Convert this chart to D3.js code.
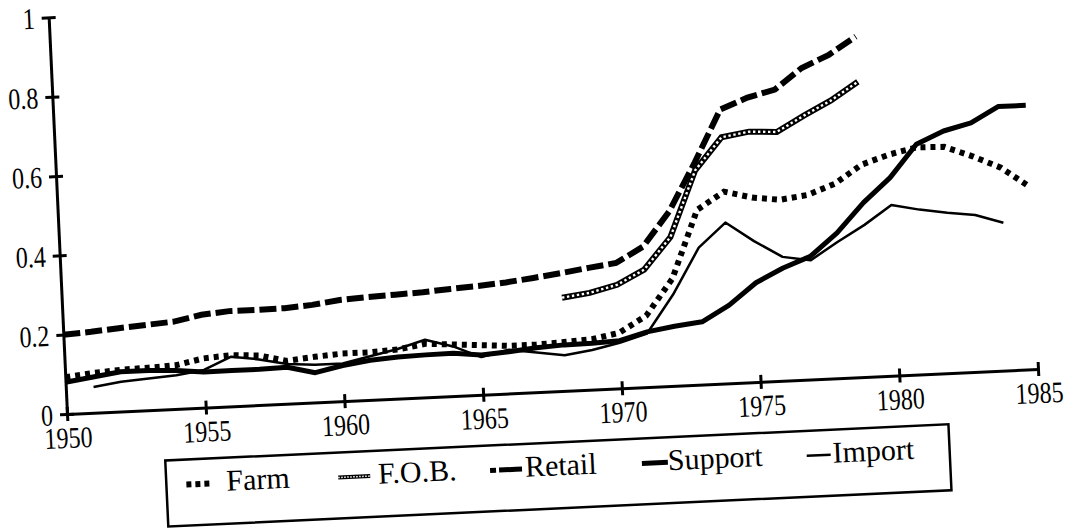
<!DOCTYPE html>
<html>
<head>
<meta charset="utf-8">
<script src="https://cdn.jsdelivr.net/npm/d3@7"></script>
<style>
  body { margin: 0; background: #fff; }
  svg { display: block; }
  svg text { font-family: "Liberation Serif", "Times New Roman", serif !important; fill: #000; }
</style>
</head>
<body>
<div id="chart"></div>
<script>
// values (share, 0..1)
const farmStart = 1950;
const farm = [0.093, 0.10, 0.105, 0.107, 0.11, 0.124, 0.129, 0.125, 0.108, 0.115,
  0.12, 0.12, 0.124, 0.135, 0.13, 0.125, 0.12, 0.12, 0.123, 0.127,
  0.14, 0.18, 0.27, 0.44, 0.483, 0.465, 0.456, 0.465, 0.49, 0.535,
  0.557, 0.572, 0.57, 0.543, 0.511, 0.46];

const fobStart = 1968;
const fob = [0.235, 0.244, 0.261, 0.296, 0.375, 0.54, 0.62, 0.631, 0.627, 0.665, 0.70, 0.744];

const retailStart = 1950;
const retail = [0.20, 0.204, 0.21, 0.215, 0.22, 0.234, 0.24, 0.24, 0.241, 0.246,
  0.255, 0.259, 0.262, 0.265, 0.27, 0.274, 0.28, 0.288, 0.297, 0.307,
  0.316, 0.354, 0.44, 0.56, 0.69, 0.717, 0.734, 0.785, 0.815, 0.858];

const supportStart = 1950;
const support = [0.08, 0.09, 0.10, 0.10, 0.097, 0.09, 0.09, 0.09, 0.092, 0.075,
  0.09, 0.10, 0.105, 0.107, 0.108, 0.10, 0.105, 0.112, 0.116, 0.117,
  0.12, 0.139, 0.15, 0.158, 0.197, 0.25, 0.284, 0.31, 0.366, 0.439,
  0.499, 0.58, 0.61, 0.627, 0.665, 0.665];

const importStart = 1951;
const imports = [0.065, 0.075, 0.08, 0.085, 0.095, 0.125, 0.115, 0.10, 0.095,
  0.095, 0.11, 0.125, 0.145, 0.125, 0.095, 0.11, 0.10, 0.09, 0.10,
  0.115, 0.135, 0.23, 0.345, 0.405, 0.355, 0.312, 0.30, 0.343, 0.383,
  0.43, 0.415, 0.404, 0.395, 0.372];

const xTicks = [1950, 1955, 1960, 1965, 1970, 1975, 1980, 1985];
const yTicks = [0, 0.2, 0.4, 0.6, 0.8, 1];
const yTickLabels = ["0", "0.2", "0.4", "0.6", "0.8", "1"];
const legendNames = ["Farm", "F.O.B.", "Retail", "Support", "Import"];

const W = 1068, H = 531;
const width = 972, height = 397;
const tilt = -2.65; // the page was scanned a little crooked

const svg = d3.select('#chart').append('svg')
  .attr('width', W).attr('height', H);

const g = svg.append('g')
  .attr('transform', 'translate(67,414) rotate(' + tilt + ')');

const x = d3.scaleLinear().domain([1950, 1985]).range([0, width]);
const y = d3.scaleLinear().domain([0, 1]).range([0, -height]);

// x axis
const xAxis = g.append('g')
  .call(d3.axisBottom(x).tickValues(xTicks).tickSize(7).tickSizeOuter(0).tickFormat(d3.format('d')));
xAxis.attr('font-family', null);
xAxis.select('.domain').attr('stroke', '#000').attr('stroke-width', 3);
xAxis.selectAll('.tick line').attr('y1', -7).attr('y2', 7).attr('stroke-width', 3);
xAxis.selectAll('.tick text')
  .attr('y', 0).attr('dy', 0)
  .attr('font-size', 30)
  .attr('transform', 'translate(0,34) scale(0.8,1)');

// y axis
const yAxis = g.append('g')
  .call(d3.axisLeft(y).tickValues(yTicks).tickSize(7).tickSizeOuter(0)
    .tickFormat((d, i) => yTickLabels[i]));
yAxis.attr('font-family', null);
yAxis.select('.domain').attr('stroke', '#000').attr('stroke-width', 3);
yAxis.selectAll('.tick line').attr('x1', -7).attr('x2', 7).attr('stroke-width', 3);
yAxis.selectAll('.tick text')
  .attr('x', 0).attr('dy', '0.34em')
  .attr('font-size', 30)
  .attr('transform', 'translate(-14,0) scale(0.8,1)');

function pts(start, vals) {
  return vals.map((v, i) => [start + i, v]);
}
const line = d3.line().x(d => x(d[0])).y(d => y(d[1]));

// Farm: dotted
g.append('path').datum(pts(farmStart, farm))
  .attr('fill', 'none').attr('stroke', '#000').attr('stroke-width', 6)
  .attr('stroke-dasharray', '5,5').attr('d', line);

// Import: thin
g.append('path').datum(pts(importStart, imports))
  .attr('fill', 'none').attr('stroke', '#000').attr('stroke-width', 2.5)
  .attr('stroke-linejoin', 'round').attr('d', line);

// Support: thick
g.append('path').datum(pts(supportStart, support))
  .attr('fill', 'none').attr('stroke', '#000').attr('stroke-width', 5)
  .attr('stroke-linejoin', 'round').attr('d', line);

// Retail: long dashes
g.append('path').datum(pts(retailStart, retail))
  .attr('fill', 'none').attr('stroke', '#000').attr('stroke-width', 6)
  .attr('stroke-dasharray', '17,5').attr('d', line);

// F.O.B.: chain of little circles
g.append('path').datum(pts(fobStart, fob))
  .attr('fill', 'none').attr('stroke', '#000').attr('stroke-width', 6).attr('d', line);
g.append('path').datum(pts(fobStart, fob))
  .attr('fill', 'none').attr('stroke', '#fff').attr('stroke-width', 2.4)
  .attr('stroke-dasharray', '2.4,2.6').attr('d', line);

// legend box
const leg = g.append('g');
leg.append('rect')
  .attr('x', 96).attr('y', 51).attr('width', 784).attr('height', 66)
  .attr('fill', '#fff').attr('stroke', '#000').attr('stroke-width', 2.5);

const legText = [156, 308, 455, 598, 763];
const legSym = [[116, 142], [268, 300], [420, 452], [572, 598], [737, 761]];
const legBase = 84;
const legSymY = 76;

legendNames.forEach((name, i) => {
  const s = legSym[i];
  const p = leg.append('line')
    .attr('x1', s[0]).attr('x2', s[1]).attr('y1', legSymY).attr('y2', legSymY)
    .attr('stroke', '#000');
  if (i === 0) p.attr('stroke-width', 6).attr('stroke-dasharray', '5,4');
  if (i === 1) {
    p.attr('stroke-width', 4);
    leg.append('line').attr('x1', s[0]).attr('x2', s[1]).attr('y1', legSymY).attr('y2', legSymY)
      .attr('stroke', '#fff').attr('stroke-width', 1.5).attr('stroke-dasharray', '1.5,1.5');
  }
  if (i === 2) p.attr('stroke-width', 5).attr('stroke-dasharray', '6,3,17,0');
  if (i === 3) p.attr('stroke-width', 5);
  if (i === 4) p.attr('stroke-width', 2.5);
  leg.append('text')
    .attr('x', legText[i]).attr('y', legBase)
    .attr('font-size', 30)
    .text(name);
});
</script>
</body>
</html>
